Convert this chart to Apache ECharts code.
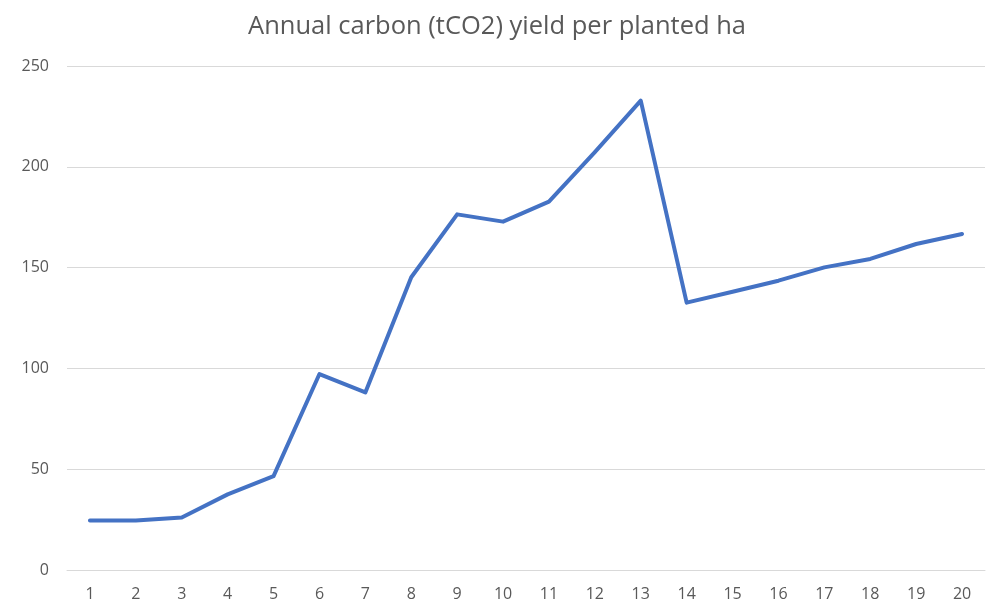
<!DOCTYPE html>
<html><head><meta charset="utf-8">
<script src="https://cdn.jsdelivr.net/npm/echarts@6/dist/echarts.min.js"></script>
<style>html,body{margin:0;padding:0;background:#fff}#c{width:994px;height:603px}</style>
</head><body><div id="c"></div>
<script>
const categories = ['1','2','3','4','5','6','7','8','9','10','11','12','13','14','15','16','17','18','19','20'];
const values = [24.5,24.5,26,37.5,46.6,97.2,88.1,145.2,176.4,172.8,182.7,207.3,232.8,132.6,138,143.5,150.1,154.3,161.7,166.7];
const titleText = 'Annual carbon (tCO2) yield per planted ha';
const chart = echarts.init(document.getElementById('c'), null, {renderer:'canvas'});
chart.setOption({
  animation:false,
  title:{text:titleText,left:'center',top:9,textStyle:{fontFamily:'Open Sans',fontSize:25.5,fontWeight:'normal',color:'#595959'}},
  grid:{left:67,right:9,top:66,bottom:33},
  xAxis:{type:'category',data:categories,boundaryGap:true,
    axisLine:{show:true,lineStyle:{color:'#d9d9d9',width:1}},axisTick:{show:false},
    axisLabel:{color:'#595959',fontFamily:'Open Sans',fontSize:16,margin:16}},
  yAxis:{type:'value',min:0,max:250,interval:50,
    axisLine:{show:false},axisTick:{show:false},
    splitLine:{lineStyle:{color:'#d9d9d9',width:1}},
    axisLabel:{color:'#595959',fontFamily:'Open Sans',fontSize:16,margin:18}},
  series:[{type:'line',data:values,symbol:'none',lineStyle:{color:'#4472C4',width:4,cap:'round',join:'round'}}]
});
</script></body></html>
